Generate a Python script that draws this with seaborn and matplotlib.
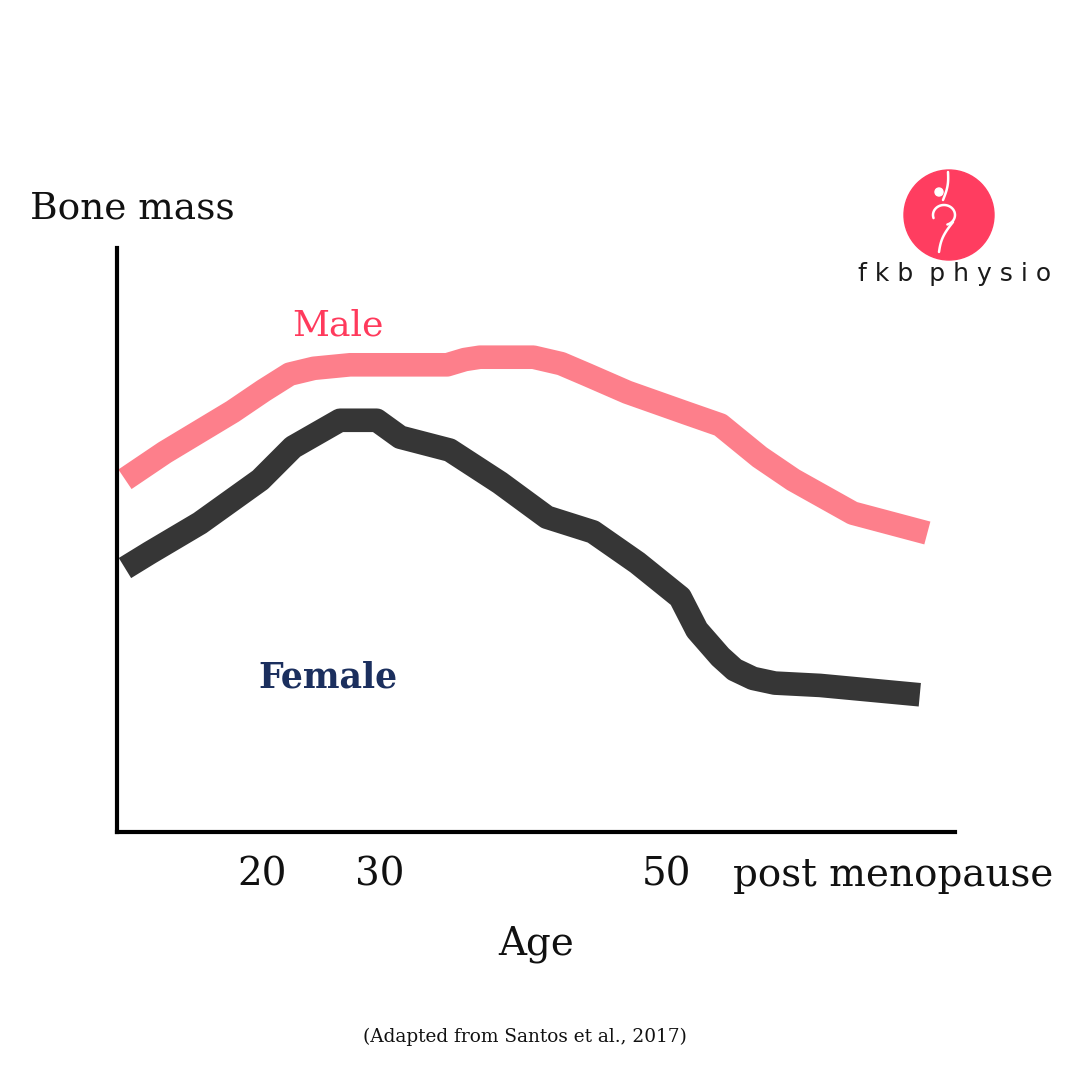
import numpy as np
import pandas as pd
import matplotlib
matplotlib.use("Agg")
import matplotlib.pyplot as plt
import seaborn as sns
from matplotlib.patches import Circle

# ---- data (arbitrary units) ----
male_x = [0.95, 5.7, 13.8, 17.5, 20.6, 23.5, 27.8, 39.4, 41.5, 43.3, 49.7, 53.0, 56.1, 60.9, 68.0, 72.0, 76.7, 80.7, 87.8, 96.7]
male_y = [60.4, 65.0, 72.0, 75.6, 78.4, 79.4, 80.0, 80.0, 80.9, 81.3, 81.3, 80.2, 78.3, 75.3, 71.7, 69.7, 64.2, 60.3, 54.6, 51.2]

female_x = [0.95, 3.9, 9.9, 17.1, 21.0, 26.6, 31.0, 33.8, 39.7, 45.7, 51.3, 56.8, 62.1, 67.2, 69.2, 72.0, 73.7, 75.9, 78.5, 83.9, 95.8]
female_y = [45.2, 47.8, 52.9, 60.3, 65.9, 70.5, 70.5, 67.6, 65.4, 59.8, 53.9, 51.4, 46.1, 40.2, 34.6, 30.0, 27.8, 26.3, 25.5, 25.1, 23.5]

tick_pos = [17.3, 31.4, 65.6, 92.6]
tick_labels = ["20", "30", "50", "post menopause"]

male_color = "#FD7F8B"
female_color = "#363636"

sns.set_theme(style="white")
plt.rcParams['font.family'] = ['DejaVu Serif']

df = pd.concat([
    pd.DataFrame({"x": male_x, "y": male_y, "sex": "Male"}),
    pd.DataFrame({"x": female_x, "y": female_y, "sex": "Female"}),
])

fig = plt.figure(figsize=(10.8, 10.8), dpi=100)
ax = fig.add_axes([117/1080, 1 - 832/1080, (955-117)/1080, (832-248)/1080])

sns.lineplot(data=df, x="x", y="y", hue="sex", palette={"Male": male_color, "Female": female_color},
             sort=False, estimator=None, linewidth=17, legend=False, ax=ax)
for ln in ax.lines:
    ln.set_solid_capstyle("butt")
    ln.set_solid_joinstyle("round")

ax.set_xlim(0, 100)
ax.set_ylim(0, 100)
for s in ["top", "right"]:
    ax.spines[s].set_visible(False)
for s in ["left", "bottom"]:
    ax.spines[s].set_linewidth(3)
    ax.spines[s].set_color("black")

ax.set_xticks(tick_pos)
ax.set_xticklabels(tick_labels, fontsize=28, color="#111111")
ax.tick_params(axis="x", length=0, pad=18)
ax.set_yticks([])
ax.set_xlabel("Age", fontsize=28, color="#111111", labelpad=23)
ax.set_ylabel("")

fig.text(30/1080, 1 - 208/1080, "Bone mass", fontsize=27, color="#111111", ha="left", va="center")
fig.text(338/1080, 1 - 325/1080, "Male", fontsize=26, color="#FF3A5C", ha="center", va="center")
fig.text(328/1080, 1 - 678/1080, "Female", fontsize=25, color="#1B2F5E", ha="center", va="center",
         fontweight="bold")
fig.text(525/1080, 1 - 1037/1080, "(Adapted from Santos et al., 2017)", fontsize=13.3, color="#111111",
         ha="center", va="center")

# logo
cx, cy, r = 949, 215, 45
circ = Circle((cx/1080, 1 - cy/1080), r/1080, transform=fig.transFigure, color="#FF3D60", zorder=5)
fig.patches.append(circ)
head = Circle((939/1080, 1 - 192/1080), 4/1080, transform=fig.transFigure, color="white", zorder=6)
fig.patches.append(head)
t = np.linspace(0, 1, 40)
ang = np.pi * (1.1 - 1.5 * t)
bx = 944 + 11 * np.cos(ang)
by = 215 - 10 * np.sin(ang)
fig.add_artist(plt.Line2D(bx/1080, 1 - by/1080, transform=fig.transFigure, color="white", lw=1.8, zorder=6))
t2 = np.linspace(0, 1, 30)
lx = 953 - 14 * t2 - 3 * np.sin(np.pi * t2)
ly = 222 + 30 * t2
fig.add_artist(plt.Line2D(lx/1080, 1 - ly/1080, transform=fig.transFigure, color="white", lw=1.8, zorder=6))
t3 = np.linspace(0, 1, 30)
ax_ = 943 + 5 * t3 + 2 * np.sin(np.pi * t3)
ay_ = 200 - 28 * t3
fig.add_artist(plt.Line2D(ax_/1080, 1 - ay_/1080, transform=fig.transFigure, color="white", lw=1.8, zorder=6))
fig.text(955/1080, 1 - 274/1080, "f k b  p h y s i o", fontsize=18, color="#1a1a1a", ha="center", va="center",
         family=["DejaVu Sans"])

fig.savefig("out.png", dpi=100, facecolor="white")
